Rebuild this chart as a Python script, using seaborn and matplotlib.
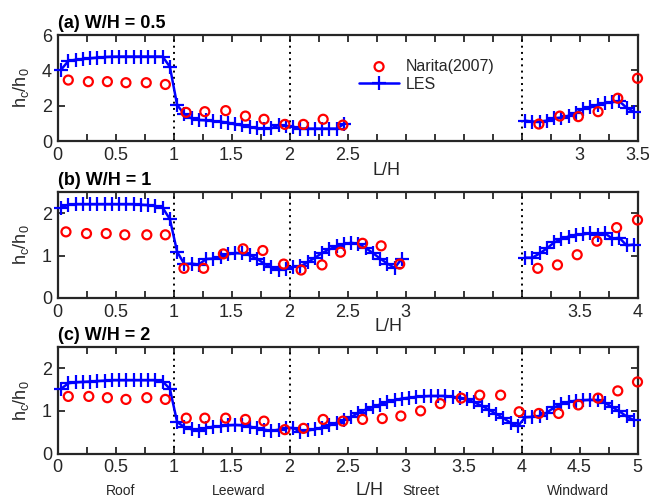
import numpy as np
import matplotlib
matplotlib.use("Agg")
import matplotlib.pyplot as plt
import seaborn as sns

# ---------------- data ----------------
panel_titles = ["(a) W/H = 0.5", "(b) W/H = 1", "(c) W/H = 2"]
region_names = ["Roof", "Leeward", "Street", "Windward"]
region_x = [0.54, 1.56, 3.13, 4.49]
wall_lines = [1, 2, 4]

xtick_pos = [0, 0.5, 1, 1.5, 2, 2.5, 3, 3.5, 4, 4.5, 5]
xtick_labels_a = ["0", "0.5", "1", "1.5", "2", "2.5", "", "", "", "3", "3.5"]
xtick_labels_b = ["0", "0.5", "1", "1.5", "2", "2.5", "3", "", "", "3.5", "4"]
xtick_labels_c = ["0", "0.5", "1", "1.5", "2", "2.5", "3", "3.5", "4", "4.5", "5"]
xtick_minor = [0.25, 0.75, 1.25, 1.75, 2.25, 2.75, 3.25, 3.75, 4.25, 4.75]

# Narita (2007) measurements
nar_a_x = [0.093, 0.266, 0.43, 0.59, 0.765, 0.93, 1.108, 1.27, 1.45, 1.62, 1.78,
           1.96, 2.12, 2.29, 2.46, 4.15, 4.33, 4.49, 4.66, 4.83, 5.0]
nar_a_y = [3.45, 3.36, 3.36, 3.30, 3.30, 3.20, 1.62, 1.66, 1.72, 1.41, 1.23,
           0.94, 0.94, 1.23, 0.90, 0.96, 1.41, 1.38, 1.66, 2.42, 3.55]

nar_b_x = [0.073, 0.25, 0.42, 0.58, 0.77, 0.93, 1.09, 1.26, 1.43, 1.60, 1.77, 1.95,
           2.10, 2.28, 2.44, 2.63, 2.79, 2.95, 4.14, 4.31, 4.48, 4.65, 4.82, 5.0]
nar_b_y = [1.56, 1.52, 1.52, 1.49, 1.49, 1.49, 0.70, 0.70, 1.04, 1.16, 1.12, 0.80,
           0.66, 0.78, 1.08, 1.29, 1.23, 0.80, 0.70, 0.78, 1.02, 1.34, 1.66, 1.84]

nar_c_x = [0.093, 0.27, 0.43, 0.59, 0.77, 0.93, 1.11, 1.27, 1.45, 1.62, 1.78, 1.96,
           2.12, 2.29, 2.46, 2.63, 2.80, 2.96, 3.13, 3.30, 3.48, 3.64, 3.82, 3.98,
           4.15, 4.32, 4.49, 4.66, 4.83, 5.0]
nar_c_y = [1.34, 1.34, 1.31, 1.27, 1.31, 1.27, 0.83, 0.83, 0.83, 0.80, 0.76, 0.56,
           0.59, 0.80, 0.76, 0.80, 0.82, 0.88, 1.00, 1.17, 1.30, 1.37, 1.37, 0.98,
           0.94, 0.94, 1.14, 1.30, 1.47, 1.68]

# LES (grid cells of width 1/16)
les_step = 1 / 16
les_a_roofstreet = [4.04, 4.53, 4.60, 4.64, 4.68, 4.72, 4.75, 4.77, 4.78, 4.78, 4.78,
                    4.78, 4.78, 4.78, 4.78, 4.20,
                    2.04, 1.51, 1.28, 1.19, 1.17, 1.12, 1.09, 1.04, 0.94, 0.89, 0.79,
                    0.72, 0.70, 0.72, 0.91, 0.85, 0.81, 0.70, 0.70, 0.70, 0.70, 0.70,
                    0.70, 0.96]
les_a_windward = [1.15, 1.10, 1.10, 1.15, 1.28, 1.32, 1.43, 1.60, 1.82, 1.90, 2.05,
                  2.15, 2.20, 2.25, 1.88, 1.65]

les_b_roofstreet = [2.13, 2.20, 2.21, 2.21, 2.21, 2.21, 2.21, 2.21, 2.21, 2.21, 2.21,
                    2.20, 2.19, 2.17, 2.13, 1.86,
                    1.09, 0.80, 0.81, 0.79, 0.92, 0.93, 0.97, 1.03, 1.06, 1.05, 1.01,
                    0.93, 0.81, 0.72, 0.67, 0.68, 0.74, 0.75, 0.84, 0.95, 1.06, 1.15,
                    1.22, 1.27, 1.30, 1.28, 1.18, 1.06, 0.93, 0.81, 0.71, 0.93]
les_b_windward = [0.95, 0.95, 1.05, 1.17, 1.31, 1.39, 1.45, 1.49, 1.50, 1.53, 1.49,
                  1.53, 1.40, 1.42, 1.24, 1.26]

les_c_all = [1.52, 1.65, 1.67, 1.68, 1.69, 1.70, 1.71, 1.72, 1.72, 1.72, 1.72, 1.72,
             1.72, 1.72, 1.69, 1.52,
             0.74, 0.62, 0.57, 0.53, 0.60, 0.63, 0.64, 0.66, 0.67, 0.66, 0.63, 0.60,
             0.56, 0.53, 0.56, 0.60, 0.60, 0.51, 0.54, 0.57, 0.61, 0.66, 0.72, 0.78,
             0.86, 0.95, 1.03, 1.09, 1.15, 1.21, 1.25, 1.29, 1.31, 1.33, 1.34, 1.35,
             1.35, 1.35, 1.33, 1.31, 1.27, 1.20, 1.12, 1.03, 0.93, 0.83, 0.72, 0.64,
             0.85, 0.86, 0.88, 0.96, 1.08, 1.16, 1.21, 1.24, 1.25, 1.26, 1.25, 1.19,
             1.09, 0.99, 0.87, 0.78]

# ---------------- style ----------------
sns.set_theme(style="white")
plt.rcParams["font.family"] = ["Liberation Sans", "DejaVu Sans"]
plt.rcParams["mathtext.fontset"] = "custom"
plt.rcParams["mathtext.rm"] = "Liberation Sans"
plt.rcParams["mathtext.it"] = "Liberation Sans:italic"
plt.rcParams["mathtext.bf"] = "Liberation Sans:bold"
plt.rcParams["mathtext.default"] = "regular"

TXT = "#262626"
fig = plt.figure(figsize=(6.49, 5.0), dpi=100)

W, H = 649, 500
def fig_rect(left, top, right, bottom):
    return [left / W, 1 - bottom / H, (right - left) / W, (bottom - top) / H]

ax_a = fig.add_axes(fig_rect(57.5, 35, 637.5, 141))
ax_b = fig.add_axes(fig_rect(57.5, 192, 637.5, 298))
ax_c = fig.add_axes(fig_rect(57.5, 347, 637.5, 453.5))

def les_x(start, n):
    return start + (np.arange(n) + 0.5) * les_step

panels = [
    dict(ax=ax_a, title=panel_titles[0], nx=nar_a_x, ny=nar_a_y,
         segs=[(0.0, les_a_roofstreet), (4.0, les_a_windward)],
         ylim=(0, 6), yticks=[0, 2, 4, 6], xlabels=xtick_labels_a, xlab_x=0.568, xlab_y=-0.20),
    dict(ax=ax_b, title=panel_titles[1], nx=nar_b_x, ny=nar_b_y,
         segs=[(0.0, les_b_roofstreet), (4.0, les_b_windward)],
         ylim=(0, 2.5), yticks=[0, 1, 2], xlabels=xtick_labels_b, xlab_x=0.570, xlab_y=-0.19),
    dict(ax=ax_c, title=panel_titles[2], nx=nar_c_x, ny=nar_c_y,
         segs=[(0.0, les_c_all)],
         ylim=(0, 2.5), yticks=[0, 1, 2], xlabels=xtick_labels_c, xlab_x=0.538, xlab_y=-0.27),
]

for i, p in enumerate(panels):
    ax = p["ax"]
    for xv in wall_lines:
        ax.axvline(xv, color="black", linestyle=(0, (1, 2.2)), linewidth=1.4, zorder=1)
    sns.scatterplot(x=p["nx"], y=p["ny"], ax=ax, marker="o", s=42, color="red",
                    facecolor="none", edgecolor="red", linewidth=1.6,
                    label="Narita(2007)", clip_on=False, zorder=4, legend=False)
    for j, (start, vals) in enumerate(p["segs"]):
        sns.lineplot(x=les_x(start, len(vals)), y=vals, ax=ax, color="blue",
                     marker="+", markersize=9.5, markeredgewidth=1.6,
                     markeredgecolor="blue", markerfacecolor="blue", linewidth=1.8,
                     sort=False, estimator=None, clip_on=False, zorder=3,
                     label="LES" if j == 0 else "_nolegend_", legend=False)
    ax.set_xlim(0, 5)
    ax.set_ylim(*p["ylim"])
    ax.set_xticks(xtick_pos, p["xlabels"])
    ax.set_xticks(xtick_minor, minor=True)
    ax.set_yticks(p["yticks"], [str(v) for v in p["yticks"]])
    ax.tick_params(which="both", direction="in", top=True, bottom=True, left=True,
                   right=True, length=5, width=1.3, color=TXT, labelcolor=TXT,
                   labelsize=13, pad=4)
    for s in ax.spines.values():
        s.set_linewidth(1.6)
        s.set_color(TXT)
    ax.set_title(p["title"], loc="left", fontsize=13, fontweight="bold", color="black", pad=5)
    ax.set_ylabel(r"h$_c$/h$_0$", fontsize=13, color=TXT)
    ax.yaxis.set_label_coords(-0.045, 0.5)
    ax.set_xlabel("L/H", fontsize=13, color=TXT)
    ax.xaxis.set_label_coords(p["xlab_x"], p["xlab_y"])
    ax.grid(False)
    if i == 0:
        handles, labels = ax.get_legend_handles_labels()
        order = [labels.index("Narita(2007)"), labels.index("LES")]
        ax.legend([handles[k] for k in order], [labels[k] for k in order],
                  loc="upper left", bbox_to_anchor=(0.52, 0.775), frameon=False,
                  fontsize=11.5, handlelength=2.5, handletextpad=0.45,
                  labelspacing=0.2, borderpad=0, borderaxespad=0)

for name, xv in zip(region_names, region_x):
    ax_c.text(xv, -0.352, name, transform=ax_c.get_xaxis_transform(),
              ha="center", va="center", fontsize=10, color=TXT)

fig.savefig("out.png", dpi=100)
